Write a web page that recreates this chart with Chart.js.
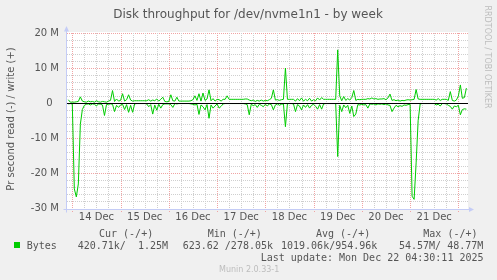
<!DOCTYPE html>
<html><head><meta charset="utf-8">
<script src="https://cdn.jsdelivr.net/npm/chart.js@4/dist/chart.umd.min.js"></script>
<style>html,body{margin:0;padding:0;background:#F0F0F0;overflow:hidden}canvas{display:block}</style>
</head><body>
<canvas id="c" width="497" height="280"></canvas>
<script>
// ---- data (values in M bytes per second) ----
const titleText = 'Disk throughput for /dev/nvme1n1 - by week';
const yAxisTitle = 'Pr second read (-) / write (+)';
const dayLabels = ['14 Dec','15 Dec','16 Dec','17 Dec','18 Dec','19 Dec','20 Dec','21 Dec'];
const dayLabelHours = [36,60,84,108,132,156,180,204];   // hours since 13 Dec 00:00 (noon of each day)
const yTickValues = [-30,-20,-10,0,10,20];
const yTickLabels = ['-30 M','-20 M','-10 M','0  ','10 M','20 M'];
const firstSampleHour = 22;   // 13 Dec 22:00, one sample per hour
// write (+)
const writeMB = [
  1.0,0.3,
  0.3,0.3,0.4,0.5,1.8,0.6,0.4,0.3,0.6,0.4,0.5,0.3,0.7,0.4,0.3,0.5,0.4,0.3,0.6,0.8,3.6,0.5,1.2,0.6,
  0.8,2.7,0.6,1.0,2.4,0.9,0.6,0.7,0.7,0.7,0.7,0.7,0.7,0.7,1.0,0.6,0.9,0.7,1.2,0.6,1.1,1.7,0.5,0.4,
  0.5,2.4,0.7,0.6,1.7,0.6,0.6,0.6,0.6,0.6,0.6,0.7,1.0,2.1,0.8,2.7,0.6,2.9,0.8,1.2,3.8,0.7,1.3,0.6,
  1.1,1.0,0.6,1.1,1.1,2.1,1.1,1.1,1.1,1.1,1.1,1.1,1.1,1.1,1.2,1.2,0.9,0.7,0.9,0.5,0.8,0.6,0.9,0.6,
  0.8,0.7,1.0,1.4,3.8,0.9,1.0,0.8,1.0,1.1,10.0,1.1,1.1,1.1,1.1,0.6,1.3,0.7,1.5,0.6,1.1,0.7,1.4,0.6,
  1.0,0.7,1.5,0.9,1.6,1.1,1.1,1.1,1.1,1.1,1.1,1.1,15.2,2.1,0.7,1.9,0.8,1.3,0.9,1.6,3.6,0.8,1.1,1.0,
  1.1,1.1,1.1,1.3,1.2,1.5,1.2,1.3,1.1,1.2,1.2,1.3,1.0,1.5,2.6,0.8,1.0,0.7,0.9,0.6,0.8,0.7,0.9,1.0,
  0.9,1.0,1.1,3.9,1.2,1.1,1.1,1.1,1.1,1.1,1.1,1.1,1.1,0.9,1.3,0.8,1.1,1.1,1.1,0.8,3.3,0.8,0.6,0.9,
  2.0,5.2,1.4,1.6,4.3
];
// read (-)
const readMB = [
  -0.2,-0.1,
  -0.2,-24.4,-26.7,-23,-6,-1.8,-0.6,-0.3,-0.2,-0.5,-0.2,-0.3,-0.8,-0.2,-0.3,-0.5,-3.5,-0.4,-0.3,-0.2,-0.3,-2.4,-0.6,-1.2,
  -0.5,-0.3,-1.8,-0.4,-2.6,-0.6,-2.6,-0.2,-0.1,-0.1,-0.1,-0.1,-0.1,-0.2,-1.0,-0.4,-3.1,-0.5,-2.0,-0.3,-1.4,-0.4,-0.2,-0.2,
  -0.2,-0.4,-1.2,-0.1,-0.2,-0.1,-0.1,-0.1,-0.1,-0.1,-0.1,-0.2,-0.3,-0.5,-0.3,-3.2,-0.5,-1.0,-1.9,-0.4,-4.3,-0.5,-1.4,-0.8,
  -0.2,-1.4,-0.9,-0.2,-0.1,-0.1,-0.1,-0.1,-0.1,-0.1,-0.1,-0.1,-0.1,-0.1,-0.2,-0.4,-3.3,-0.3,-0.7,-0.4,-1.2,-0.3,-0.6,-1.0,
  -0.3,-0.8,-0.2,-0.4,-1.9,-0.5,-0.2,-0.6,-0.3,-0.2,-6.7,-0.1,-0.1,-0.1,-0.2,-2.4,-0.4,-0.8,-1.9,-0.5,-1.2,-0.4,-1.4,-0.6,
  -0.3,-0.9,-1.7,-0.4,-1.7,-0.2,-0.1,-0.1,-0.1,-0.1,-0.1,-0.1,-15.2,-0.6,-2.4,-0.5,-1.3,-0.6,-2.9,-0.8,-3.8,-3.1,-0.4,-0.5,
  -0.3,-0.5,-0.4,-1.4,-0.2,-0.3,-0.2,-0.5,-0.2,-0.3,-0.2,-0.4,-0.2,-0.5,-0.6,-2.4,-1.4,-0.6,-1.0,-0.7,-0.9,-0.5,-0.6,-0.4,
  -0.3,-26.5,-27.4,-17,-5,-0.2,-0.1,-0.1,-0.1,-0.1,-0.1,-0.1,-0.1,-0.5,-0.3,-0.8,-0.1,-0.1,-0.2,-0.6,-0.9,-1.7,-0.8,-1.0,
  -0.6,-3.3,-1.8,-1.6,-1.7
];
const legendHeaders = ['Cur (-/+)','Min (-/+)','Avg (-/+)','Max (-/+)'];
const legendName = 'Bytes';
const legendValues = ['420.71k/  1.25M','623.62 /278.05k','1019.06k/954.96k','54.57M/ 48.77M'];
const lastUpdate = 'Last update: Mon Dec 22 04:30:11 2025';
const versionText = 'Munin 2.0.33-1';
const watermark = 'RRDTOOL / TOBI OETIKER';

// ---- chart ----
const xMin = 21.36, xMax = 220.8;
const lineColor = '#00CC00';
const sampleHours = writeMB.map((_, i) => firstSampleHour + i);
const toPts = arr => arr.map((v, i) => ({x: sampleHours[i], y: v}));

const FONT = '"DejaVu Sans", sans-serif';
const MONO = '"DejaVu Sans Mono", monospace';
const TXT = '#555555';

const decor = {
  id: 'decor',
  beforeDraw(chart) {
    const {ctx, chartArea: a} = chart;
    ctx.save();
    ctx.fillStyle = '#FFFFFF';
    ctx.fillRect(Math.round(a.left), Math.round(a.top) - 1, Math.round(a.right - a.left), Math.round(a.bottom - a.top) + 1);
    ctx.restore();
  },
  beforeDatasetsDraw(chart) {
    const {ctx, chartArea: a, scales: {x: xs, y: ys}} = chart;
    ctx.save();
    ctx.lineWidth = 1;
    ctx.setLineDash([1, 1]);
    // horizontal grid
    for (let v = -30; v <= 20; v += 2) {
      const y = Math.round(ys.getPixelForValue(v)) + 0.5;
      ctx.strokeStyle = (v % 10 === 0) ? '#F0A4A4' : '#CFCFCF';
      ctx.beginPath(); ctx.moveTo(a.left, y); ctx.lineTo(a.right, y); ctx.stroke();
    }
    // vertical grid
    for (let h = 18; h <= xMax; h += 6) {
      if (h < xMin) continue;
      const x = Math.round(xs.getPixelForValue(h)) + 0.5;
      const major = h % 24 === 0;
      ctx.strokeStyle = major ? '#F0A4A4' : '#CFCFCF';
      ctx.beginPath(); ctx.moveTo(x, a.top); ctx.lineTo(x, a.bottom + (major ? 4 : 2)); ctx.stroke();
    }
    ctx.restore();
  },
  afterDatasetsDraw(chart) {
    const {ctx, chartArea: a, scales: {x: xs, y: ys}} = chart;
    ctx.save();
    // zero rule
    const y0 = Math.round(ys.getPixelForValue(0)) + 0.5;
    ctx.strokeStyle = '#000000'; ctx.lineWidth = 1;
    ctx.beginPath(); ctx.moveTo(a.left, y0); ctx.lineTo(a.right, y0); ctx.stroke();
    // axes
    const ax = Math.floor(a.left) - 0.5;
    const by = Math.round(ys.getPixelForValue(-30)) + 0.5;
    ctx.strokeStyle = '#C4CCF6'; ctx.fillStyle = '#C4CCF6';
    ctx.beginPath(); ctx.moveTo(ax, by + 3); ctx.lineTo(ax, a.top - 4); ctx.stroke();
    ctx.beginPath(); ctx.moveTo(ax - 3, by); ctx.lineTo(a.right + 2, by); ctx.stroke();
    ctx.beginPath(); ctx.moveTo(ax, a.top - 7); ctx.lineTo(ax - 2.5, a.top - 1.5); ctx.lineTo(ax + 2.5, a.top - 1.5); ctx.closePath(); ctx.fill();
    ctx.beginPath(); ctx.moveTo(a.right + 6, by); ctx.lineTo(a.right + 1, by - 2.5); ctx.lineTo(a.right + 1, by + 2.5); ctx.closePath(); ctx.fill();
    ctx.restore();
  },
  afterDraw(chart) {
    const {ctx} = chart;
    ctx.save();
    ctx.fillStyle = TXT;
    ctx.textBaseline = 'alphabetic';
    // title
    ctx.font = '12px ' + FONT;
    ctx.textAlign = 'center';
    ctx.fillText(titleText, 248, 17.7);
    // y axis title
    ctx.save();
    ctx.font = '10px ' + FONT;
    ctx.translate(14.3, 119);
    ctx.rotate(-Math.PI / 2);
    ctx.textAlign = 'center';
    ctx.fillText(yAxisTitle, 0, 0);
    ctx.restore();
    // watermark
    ctx.save();
    ctx.fillStyle = '#BDBDBD';
    ctx.font = '8px ' + FONT;
    ctx.translate(485.3, 5.5);
    ctx.rotate(Math.PI / 2);
    ctx.textAlign = 'left';
    ctx.fillText(watermark, 0, 0);
    ctx.restore();
    // legend
    ctx.font = '10px ' + MONO;
    ctx.textAlign = 'left';
    const hx = [99, 207.7, 316, 423.3];
    legendHeaders.forEach((t, i) => ctx.fillText(t, hx[i], 236.7));
    ctx.fillText(legendName, 26.7, 248.7);
    const vx = [77.7, 182.7, 281, 399];
    legendValues.forEach((t, i) => ctx.fillText(t, vx[i], 248.7));
    ctx.fillStyle = lineColor;
    ctx.fillRect(14, 242, 6, 6);
    ctx.fillStyle = TXT;
    ctx.textAlign = 'right';
    ctx.fillText(lastUpdate, 483.5, 261);
    ctx.fillStyle = '#BDBDBD';
    ctx.font = '8px ' + FONT;
    ctx.textAlign = 'left';
    ctx.fillText(versionText, 219, 272.3);
    ctx.restore();
  }
};

new Chart(document.getElementById('c'), {
  type: 'line',
  data: {
    datasets: [
      {label: 'write', data: toPts(writeMB), borderColor: lineColor, borderWidth: 1, pointRadius: 0, tension: 0, fill: false},
      {label: 'read', data: toPts(readMB), borderColor: lineColor, borderWidth: 1, pointRadius: 0, tension: 0, fill: false}
    ]
  },
  options: {
    responsive: false, animation: false, devicePixelRatio: 1,
    layout: {padding: {left: 0, top: 33, right: 29, bottom: 51.5}},
    plugins: {legend: {display: false}, title: {display: false}, tooltip: {enabled: false}},
    scales: {
      x: {
        type: 'linear', min: xMin, max: xMax,
        grid: {display: false, drawTicks: false}, border: {display: false},
        afterBuildTicks: s => { s.ticks = dayLabelHours.map(v => ({value: v})); },
        afterFit: s => { s.height = 20; },
        ticks: {autoSkip: false, maxRotation: 0, minRotation: 0, padding: 3, color: TXT,
                font: {family: FONT, size: 10}, callback: (v, i) => dayLabels[i]}
      },
      y: {
        min: -30, max: 20,
        grid: {display: false, drawTicks: false}, border: {display: false},
        afterBuildTicks: s => { s.ticks = yTickValues.map(v => ({value: v})); },
        afterFit: s => { s.width = 67; },
        ticks: {autoSkip: false, padding: 8, color: TXT,
                font: {family: FONT, size: 10}, callback: (v, i) => yTickLabels[i]}
      }
    }
  },
  plugins: [decor]
});
</script>
</body></html>
